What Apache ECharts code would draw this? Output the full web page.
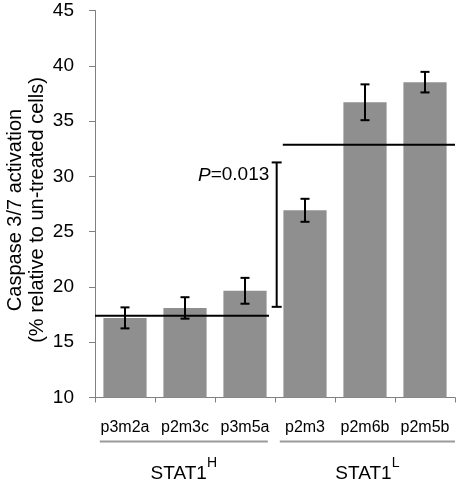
<!DOCTYPE html>
<html><head><meta charset="utf-8">
<script src="https://cdn.jsdelivr.net/npm/echarts@6/dist/echarts.min.js"></script>
<style>html,body{margin:0;padding:0;background:#fff}#c{width:461px;height:483px}</style>
</head><body><div id="c"></div>
<script>
// ---- data ----
const categories = ['p3m2a', 'p2m3c', 'p3m5a', 'p2m3', 'p2m6b', 'p2m5b'];
const means = [17.2, 18.1, 19.65, 26.93, 36.7, 38.52];
const errors = [0.95, 0.97, 1.17, 1.04, 1.62, 0.93];
const groupNames = ['STAT1', 'STAT1'];
const groupSups = ['H', 'L'];
const groupMeans = [17.4, 32.86];
const pValueText = '0.013';
const bracketRange = [18.2, 31.26];
const yTitleLines = ['Caspase 3/7 activation', '(% relative to un-treated cells)'];
const yMin = 10, yMax = 45, yStep = 5;

// ---- layout (category units on a hidden value axis, -0.5..5.5) ----
const groupLineSpans = [[-0.42, 2.38], [2.58, 5.5]];
const groupMeanSpans = [[-0.5, 2.4], [2.63, 5.5]];
const bracketX = 2.528;
const pLabelAt = [2.405, 30.1];

const FONT = "'Liberation Sans', Arial, sans-serif";
const grid = {left: 95, right: 6, top: 10.5, bottom: 85.5};

const chart = echarts.init(document.getElementById('c'), null, {renderer: 'canvas'});

const option = {
  animation: false,
  backgroundColor: '#fff',
  grid: grid,
  xAxis: [{
    type: 'category', data: categories, boundaryGap: true,
    axisLine: {onZero: false, lineStyle: {color: '#808080', width: 1}},
    axisTick: {show: true, length: 5, lineStyle: {color: '#808080'}},
    axisLabel: {color: '#000', fontSize: 16, fontFamily: FONT, margin: 22, interval: 0, hideOverlap: false}
  }, {
    type: 'value', min: -0.5, max: 5.5, show: false,
    axisLine: {onZero: false}
  }],
  yAxis: {
    type: 'value', min: yMin, max: yMax, interval: yStep,
    axisLine: {show: true, onZero: false, lineStyle: {color: '#808080', width: 1}},
    axisTick: {show: true, length: 6, lineStyle: {color: '#808080'}},
    axisLabel: {color: '#000', fontSize: 19, fontFamily: FONT, margin: 21},
    splitLine: {show: false}
  },
  series: [{
    type: 'bar', data: means, xAxisIndex: 0, barCategoryGap: '28%',
    itemStyle: {color: '#8f8f8f'}
  }, {
    type: 'custom', xAxisIndex: 0, z: 5,
    data: means.map((m, i) => [i, m, errors[i]]),
    renderItem: function (params, api) {
      const x = api.value(0), m = api.value(1), e = api.value(2);
      const t = api.coord([x, m + e]), b = api.coord([x, m - e]);
      const hw = 4.5, st = {stroke: '#000', lineWidth: 2};
      return {type: 'group', children: [
        {type: 'line', shape: {x1: t[0], y1: t[1], x2: b[0], y2: b[1]}, style: st},
        {type: 'line', shape: {x1: t[0] - hw, y1: t[1], x2: t[0] + hw, y2: t[1]}, style: st},
        {type: 'line', shape: {x1: b[0] - hw, y1: b[1], x2: b[0] + hw, y2: b[1]}, style: st}
      ]};
    }
  }, {
    type: 'custom', xAxisIndex: 1, z: 6, clip: false,
    data: groupMeans.map((v, i) => [groupMeanSpans[i][0], groupMeanSpans[i][1], v]),
    renderItem: function (params, api) {
      const a = api.coord([api.value(0), api.value(2)]);
      const b = api.coord([api.value(1), api.value(2)]);
      return {type: 'line', shape: {x1: a[0], y1: a[1], x2: b[0], y2: b[1]},
        style: {stroke: '#000', lineWidth: 2}};
    }
  }, {
    type: 'custom', xAxisIndex: 1, z: 6, clip: false,
    data: [[bracketX, bracketRange[0], bracketRange[1]]],
    renderItem: function (params, api) {
      const t = api.coord([api.value(0), api.value(2)]);
      const b = api.coord([api.value(0), api.value(1)]);
      const hw = 5, st = {stroke: '#000', lineWidth: 2};
      return {type: 'group', children: [
        {type: 'line', shape: {x1: t[0], y1: t[1], x2: b[0], y2: b[1]}, style: st},
        {type: 'line', shape: {x1: t[0] - hw, y1: t[1], x2: t[0] + hw, y2: t[1]}, style: st},
        {type: 'line', shape: {x1: b[0] - hw, y1: b[1], x2: b[0] + hw, y2: b[1]}, style: st}
      ]};
    }
  }]
};
chart.setOption(option);

const px = v => chart.convertToPixel({xAxisIndex: 1}, v);
const py = v => chart.convertToPixel({yAxisIndex: 0}, v);
const plotBottom = py(yMin);
const plotTop = py(yMax);
const titleCenterY = (plotTop + plotBottom) / 2 + 6;

const graphics = [];
// y axis title (two rotated lines)
yTitleLines.forEach((t, i) => {
  graphics.push({
    type: 'text', x: 15 + i * 22.5, y: titleCenterY, rotation: Math.PI / 2,
    style: {text: t, fontSize: 20, fontFamily: FONT, fill: '#000', align: 'center', verticalAlign: 'middle'}
  });
});
// group lines + labels
groupNames.forEach((name, i) => {
  const x0 = px(groupLineSpans[i][0]), x1 = px(groupLineSpans[i][1]);
  const ly = plotBottom + 44;
  graphics.push({type: 'line', shape: {x1: x0, y1: ly, x2: x1, y2: ly},
    style: {stroke: '#9a9a9a', lineWidth: 2}});
  graphics.push({
    type: 'text', x: (x0 + x1) / 2, y: plotBottom + 72.5,
    style: {
      text: '{m|' + name + '}{s|' + groupSups[i] + '}',
      align: 'center', verticalAlign: 'middle', fontFamily: FONT, fill: '#000',
      rich: {
        m: {fontSize: 19, lineHeight: 27, fontFamily: FONT, fill: '#000', verticalAlign: 'bottom'},
        s: {fontSize: 14, lineHeight: 14, fontFamily: FONT, fill: '#000', verticalAlign: 'top'}
      }
    }
  });
});
// P value label
graphics.push({
  type: 'text', x: px(pLabelAt[0]), y: py(pLabelAt[1]),
  style: {
    text: '{i|P}{n|=' + pValueText + '}',
    align: 'right', verticalAlign: 'middle', fontFamily: FONT, fill: '#000',
    rich: {
      i: {fontSize: 19, fontStyle: 'italic', fontFamily: FONT, fill: '#000'},
      n: {fontSize: 19, fontFamily: FONT, fill: '#000'}
    }
  }
});
chart.setOption({graphic: graphics});
</script>
</body></html>
